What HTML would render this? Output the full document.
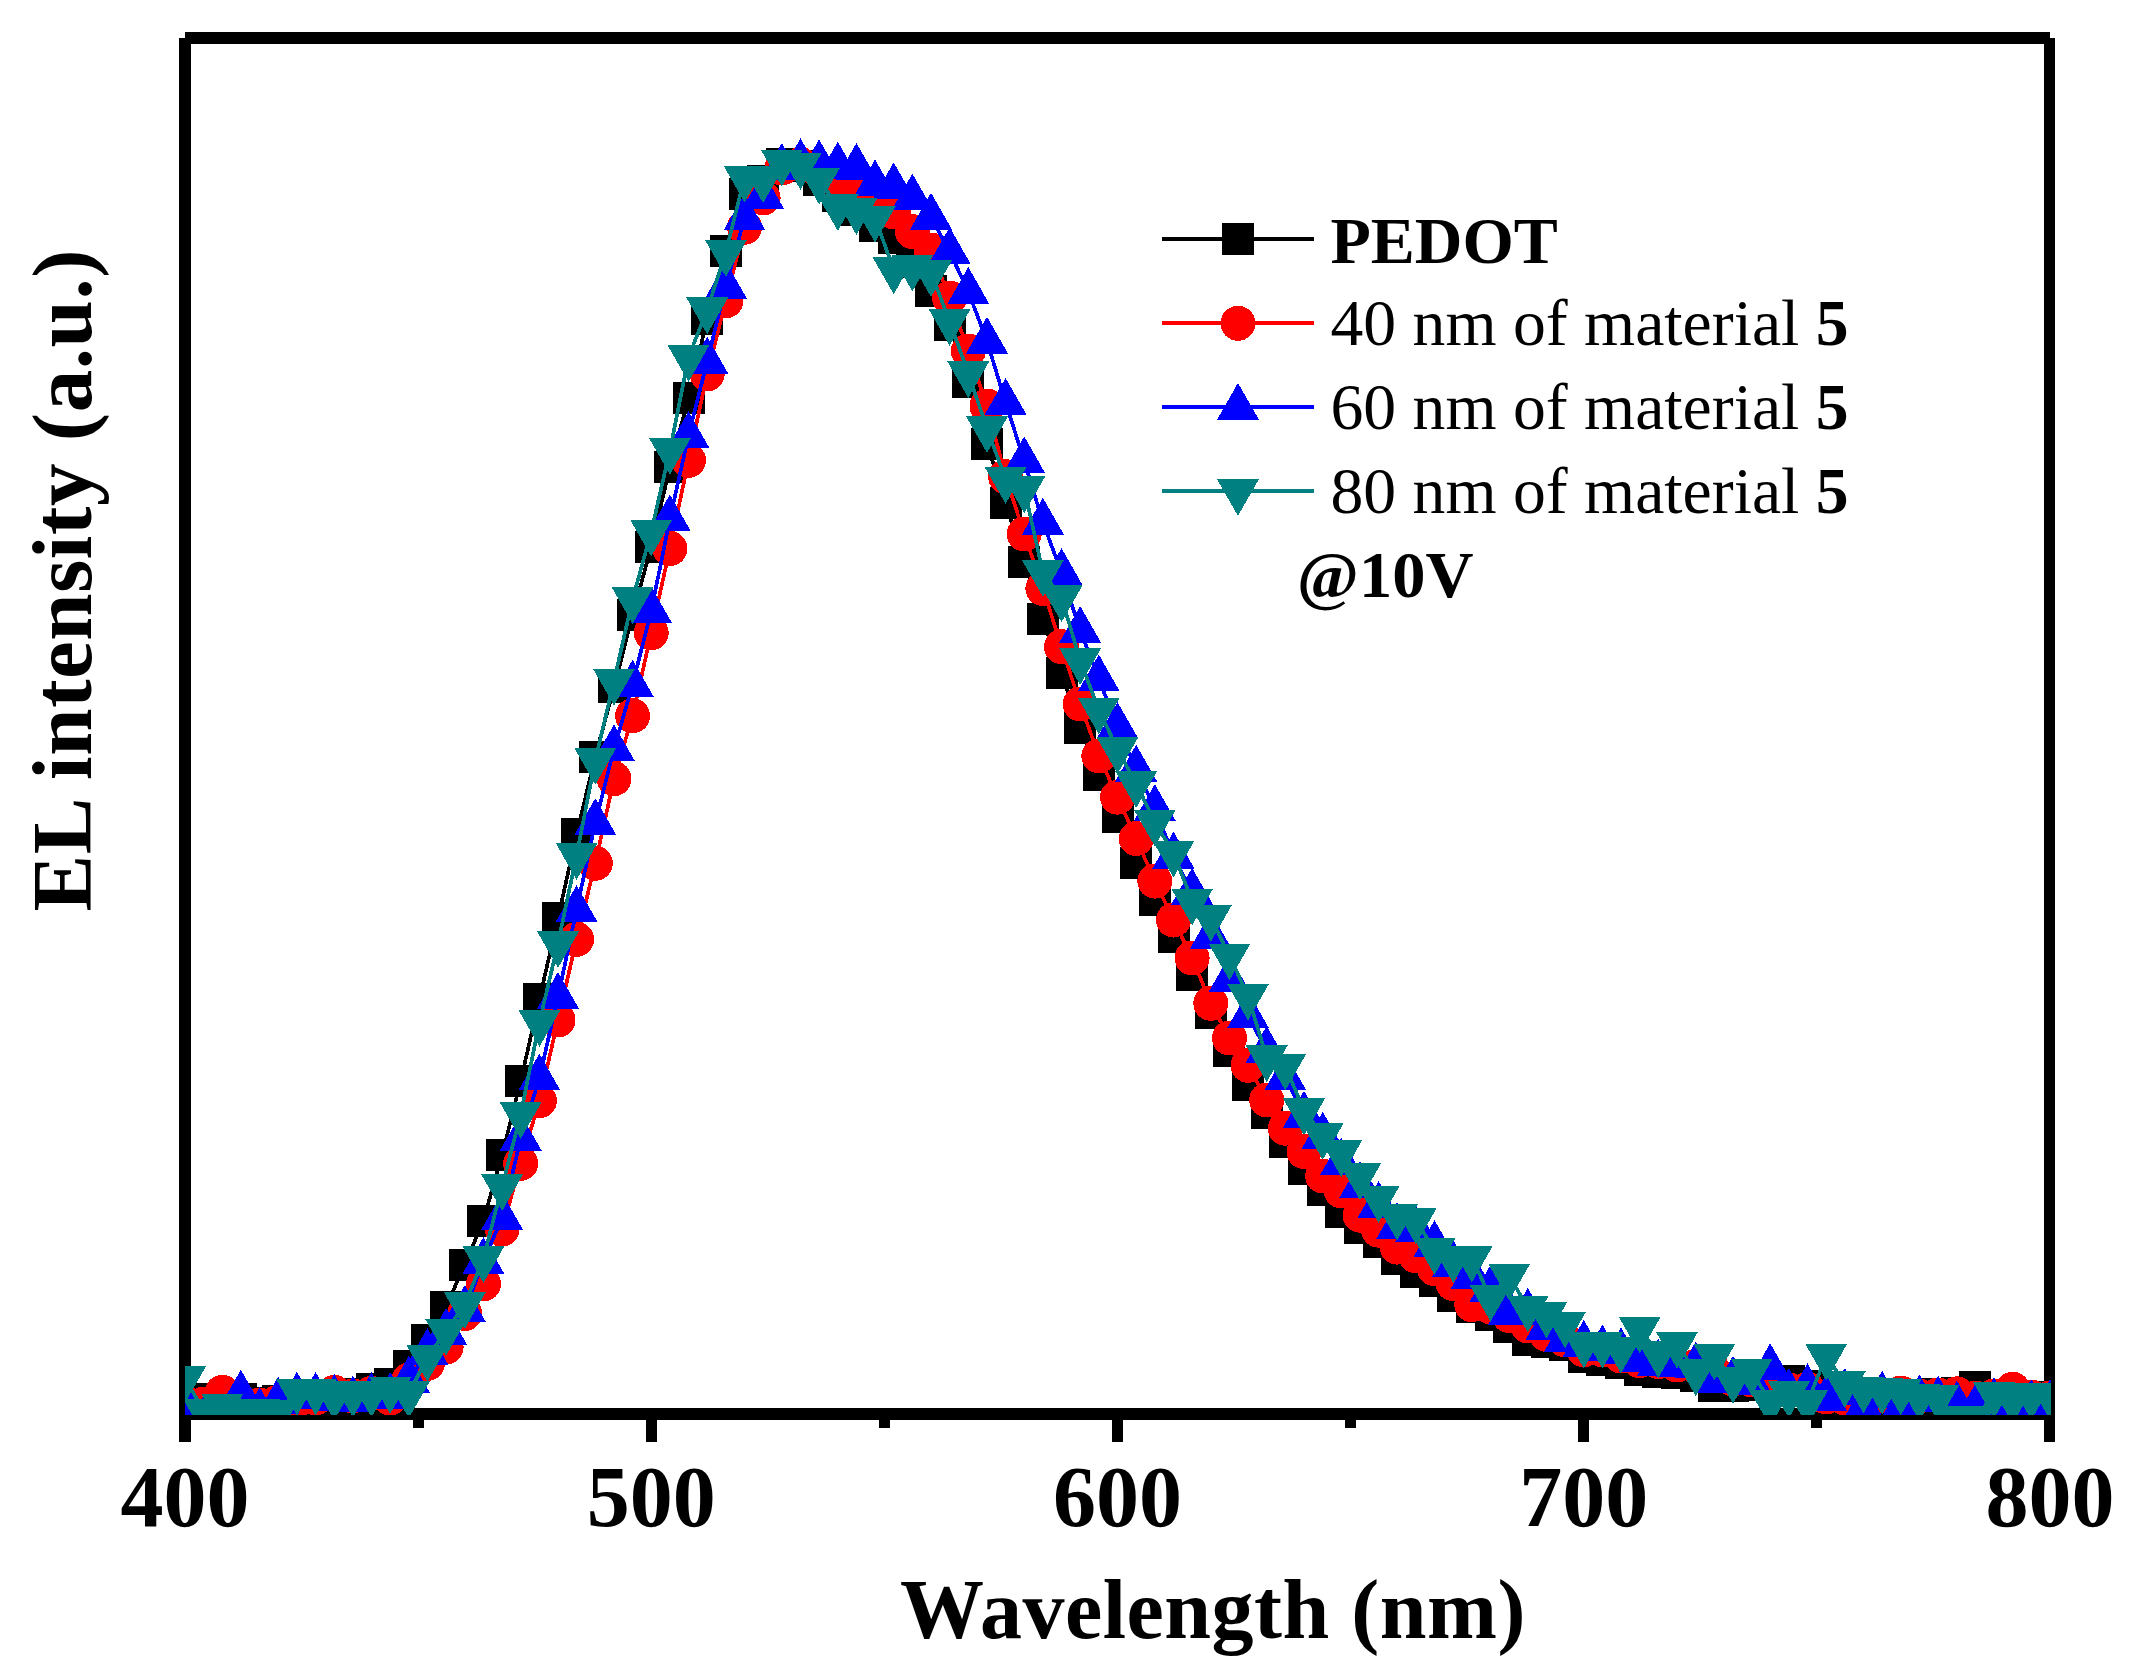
<!DOCTYPE html>
<html lang="en">
<head>
<meta charset="utf-8">
<title>EL intensity vs Wavelength</title>
<style>
html,body{margin:0;padding:0;background:#fff;}
body{width:2132px;height:1677px;overflow:hidden;}
svg{display:block;}
text{font-family:"Liberation Serif", "DejaVu Serif", serif;fill:#000;}
.b{font-weight:bold;}
</style>
</head>
<body>
<svg width="2132" height="1677" viewBox="0 0 2132 1677" shape-rendering="crispEdges">
<rect x="0" y="0" width="2132" height="1677" fill="#fff"/>
<defs><clipPath id="plot"><rect x="185" y="38" width="1866" height="1377"/></clipPath></defs>
<g fill="#000" stroke="none">
<rect x="185" y="32" width="1865" height="12"/>
<rect x="185" y="1408" width="1865" height="12"/>
<rect x="179" y="38" width="12" height="1376"/>
<rect x="2044" y="38" width="11" height="1376"/>
<rect x="179" y="1414" width="12" height="28"/>
<rect x="413" y="1414" width="11" height="14"/>
<rect x="646" y="1414" width="11" height="28"/>
<rect x="879" y="1414" width="11" height="14"/>
<rect x="1112" y="1414" width="11" height="28"/>
<rect x="1345" y="1414" width="11" height="14"/>
<rect x="1578" y="1414" width="11" height="28"/>
<rect x="1811" y="1414" width="11" height="14"/>
<rect x="2044" y="1414" width="11" height="28"/>
</g>
<g clip-path="url(#plot)">
<polyline points="185,1402 203.7,1399.4 222.3,1400 240.9,1399.4 259.6,1402.6 278.2,1401 296.9,1400 315.6,1399 334.2,1397 352.9,1394 371.5,1388.5 390.1,1384 408.8,1365.5 427.4,1340 446.1,1306.5 464.8,1264.6 483.4,1220.5 502.1,1155 520.7,1081 539.4,999 558,918.3 576.6,834.2 595.3,756.5 614,687.4 632.6,615 651.2,546.8 669.9,467.1 688.5,398.4 707.2,319 725.9,250.5 744.5,194 763.1,181 781.8,164 800.5,166 819.1,180 837.8,196 856.4,210 875,226 893.7,238 912.4,262 931,291 949.6,325 968.3,382 987,443.5 1005.6,503.4 1024.2,562.2 1042.9,619.4 1061.5,673.4 1080.2,727.7 1098.8,774.8 1117.5,816.9 1136.2,862.9 1154.8,899.7 1173.5,936.7 1192.1,974.6 1210.8,1012.7 1229.4,1050.6 1248,1084.6 1266.7,1112.6 1285.3,1142.3 1304,1169.1 1322.7,1190 1341.3,1211.8 1360,1227.7 1378.6,1241.8 1397.2,1258.7 1415.9,1271.5 1434.5,1280.5 1453.2,1295.9 1471.8,1306.6 1490.5,1314.7 1509.2,1326.9 1527.8,1339.5 1546.5,1341.9 1565.1,1344.7 1583.8,1357.3 1602.4,1360.3 1621,1362.6 1639.7,1369.7 1658.3,1371.6 1677,1372.9 1695.7,1376.3 1714.3,1385.5 1733,1386 1751.6,1385 1770.2,1384 1788.9,1380.7 1807.5,1386 1826.2,1390 1844.8,1392 1863.5,1393 1882.2,1394 1900.8,1395 1919.5,1395 1938.1,1394 1956.8,1393 1975.4,1387.3 1994,1395 2012.7,1396 2031.3,1397 2050,1398" fill="none" stroke="#000000" stroke-width="3.7" stroke-linejoin="round"/>
<g fill="#000000" stroke="none">
<rect x="169" y="1386" width="32" height="32"/>
<rect x="187.7" y="1383.4" width="32" height="32"/>
<rect x="206.3" y="1384" width="32" height="32"/>
<rect x="224.9" y="1383.4" width="32" height="32"/>
<rect x="243.6" y="1386.6" width="32" height="32"/>
<rect x="262.2" y="1385" width="32" height="32"/>
<rect x="280.9" y="1384" width="32" height="32"/>
<rect x="299.6" y="1383" width="32" height="32"/>
<rect x="318.2" y="1381" width="32" height="32"/>
<rect x="336.9" y="1378" width="32" height="32"/>
<rect x="355.5" y="1372.5" width="32" height="32"/>
<rect x="374.1" y="1368" width="32" height="32"/>
<rect x="392.8" y="1349.5" width="32" height="32"/>
<rect x="411.4" y="1324" width="32" height="32"/>
<rect x="430.1" y="1290.5" width="32" height="32"/>
<rect x="448.8" y="1248.6" width="32" height="32"/>
<rect x="467.4" y="1204.5" width="32" height="32"/>
<rect x="486.1" y="1139" width="32" height="32"/>
<rect x="504.7" y="1065" width="32" height="32"/>
<rect x="523.4" y="983" width="32" height="32"/>
<rect x="542" y="902.3" width="32" height="32"/>
<rect x="560.6" y="818.2" width="32" height="32"/>
<rect x="579.3" y="740.5" width="32" height="32"/>
<rect x="598" y="671.4" width="32" height="32"/>
<rect x="616.6" y="599" width="32" height="32"/>
<rect x="635.2" y="530.8" width="32" height="32"/>
<rect x="653.9" y="451.1" width="32" height="32"/>
<rect x="672.5" y="382.4" width="32" height="32"/>
<rect x="691.2" y="303" width="32" height="32"/>
<rect x="709.9" y="234.5" width="32" height="32"/>
<rect x="728.5" y="178" width="32" height="32"/>
<rect x="747.1" y="165" width="32" height="32"/>
<rect x="765.8" y="148" width="32" height="32"/>
<rect x="784.5" y="150" width="32" height="32"/>
<rect x="803.1" y="164" width="32" height="32"/>
<rect x="821.8" y="180" width="32" height="32"/>
<rect x="840.4" y="194" width="32" height="32"/>
<rect x="859" y="210" width="32" height="32"/>
<rect x="877.7" y="222" width="32" height="32"/>
<rect x="896.4" y="246" width="32" height="32"/>
<rect x="915" y="275" width="32" height="32"/>
<rect x="933.6" y="309" width="32" height="32"/>
<rect x="952.3" y="366" width="32" height="32"/>
<rect x="971" y="427.5" width="32" height="32"/>
<rect x="989.6" y="487.4" width="32" height="32"/>
<rect x="1008.2" y="546.2" width="32" height="32"/>
<rect x="1026.9" y="603.4" width="32" height="32"/>
<rect x="1045.5" y="657.4" width="32" height="32"/>
<rect x="1064.2" y="711.7" width="32" height="32"/>
<rect x="1082.8" y="758.8" width="32" height="32"/>
<rect x="1101.5" y="800.9" width="32" height="32"/>
<rect x="1120.2" y="846.9" width="32" height="32"/>
<rect x="1138.8" y="883.7" width="32" height="32"/>
<rect x="1157.5" y="920.7" width="32" height="32"/>
<rect x="1176.1" y="958.6" width="32" height="32"/>
<rect x="1194.8" y="996.7" width="32" height="32"/>
<rect x="1213.4" y="1034.6" width="32" height="32"/>
<rect x="1232" y="1068.6" width="32" height="32"/>
<rect x="1250.7" y="1096.6" width="32" height="32"/>
<rect x="1269.3" y="1126.3" width="32" height="32"/>
<rect x="1288" y="1153.1" width="32" height="32"/>
<rect x="1306.7" y="1174" width="32" height="32"/>
<rect x="1325.3" y="1195.8" width="32" height="32"/>
<rect x="1344" y="1211.7" width="32" height="32"/>
<rect x="1362.6" y="1225.8" width="32" height="32"/>
<rect x="1381.2" y="1242.7" width="32" height="32"/>
<rect x="1399.9" y="1255.5" width="32" height="32"/>
<rect x="1418.5" y="1264.5" width="32" height="32"/>
<rect x="1437.2" y="1279.9" width="32" height="32"/>
<rect x="1455.8" y="1290.6" width="32" height="32"/>
<rect x="1474.5" y="1298.7" width="32" height="32"/>
<rect x="1493.2" y="1310.9" width="32" height="32"/>
<rect x="1511.8" y="1323.5" width="32" height="32"/>
<rect x="1530.5" y="1325.9" width="32" height="32"/>
<rect x="1549.1" y="1328.7" width="32" height="32"/>
<rect x="1567.8" y="1341.3" width="32" height="32"/>
<rect x="1586.4" y="1344.3" width="32" height="32"/>
<rect x="1605" y="1346.6" width="32" height="32"/>
<rect x="1623.7" y="1353.7" width="32" height="32"/>
<rect x="1642.3" y="1355.6" width="32" height="32"/>
<rect x="1661" y="1356.9" width="32" height="32"/>
<rect x="1679.7" y="1360.3" width="32" height="32"/>
<rect x="1698.3" y="1369.5" width="32" height="32"/>
<rect x="1717" y="1370" width="32" height="32"/>
<rect x="1735.6" y="1369" width="32" height="32"/>
<rect x="1754.2" y="1368" width="32" height="32"/>
<rect x="1772.9" y="1364.7" width="32" height="32"/>
<rect x="1791.5" y="1370" width="32" height="32"/>
<rect x="1810.2" y="1374" width="32" height="32"/>
<rect x="1828.8" y="1376" width="32" height="32"/>
<rect x="1847.5" y="1377" width="32" height="32"/>
<rect x="1866.2" y="1378" width="32" height="32"/>
<rect x="1884.8" y="1379" width="32" height="32"/>
<rect x="1903.5" y="1379" width="32" height="32"/>
<rect x="1922.1" y="1378" width="32" height="32"/>
<rect x="1940.8" y="1377" width="32" height="32"/>
<rect x="1959.4" y="1371.3" width="32" height="32"/>
<rect x="1978" y="1379" width="32" height="32"/>
<rect x="1996.7" y="1380" width="32" height="32"/>
<rect x="2015.3" y="1381" width="32" height="32"/>
<rect x="2034" y="1382" width="32" height="32"/>
</g>
<polyline points="185,1403 203.7,1404 222.3,1392.3 240.9,1402 259.6,1405 278.2,1402 296.9,1400 315.6,1398 334.2,1392.3 352.9,1396 371.5,1393.2 390.1,1398 408.8,1380 427.4,1363.5 446.1,1347 464.8,1313.5 483.4,1284 502.1,1229 520.7,1163.3 539.4,1100.8 558,1020 576.6,939.3 595.3,863.3 614,778.7 632.6,715.8 651.2,632.8 669.9,548.6 688.5,460.4 707.2,374 725.9,300.8 744.5,227.3 763.1,198 781.8,168 800.5,164.5 819.1,171 837.8,178 856.4,184 875,195 893.7,212 912.4,231.7 931,250 949.6,298 968.3,351 987,406 1005.6,476.7 1024.2,534 1042.9,588.5 1061.5,646.7 1080.2,704 1098.8,755.9 1117.5,797.2 1136.2,838.5 1154.8,881.1 1173.5,920 1192.1,958 1210.8,1003.3 1229.4,1038 1248,1065.3 1266.7,1100 1285.3,1128.2 1304,1151.6 1322.7,1176 1341.3,1191 1360,1215.2 1378.6,1230.2 1397.2,1247.1 1415.9,1255.9 1434.5,1268.7 1453.2,1283.7 1471.8,1304.7 1490.5,1307 1509.2,1315.6 1527.8,1326 1546.5,1334.4 1565.1,1340 1583.8,1349.8 1602.4,1349.8 1621,1356 1639.7,1360.7 1658.3,1361.6 1677,1365 1695.7,1366.3 1714.3,1372 1733,1379 1751.6,1380 1770.2,1385 1788.9,1390 1807.5,1389 1826.2,1397 1844.8,1398 1863.5,1398 1882.2,1396 1900.8,1393 1919.5,1396 1938.1,1395 1956.8,1393.8 1975.4,1398 1994,1396 2012.7,1389.2 2031.3,1397 2050,1398" fill="none" stroke="#ff0000" stroke-width="3.7" stroke-linejoin="round"/>
<g fill="#ff0000" stroke="none">
<circle cx="185" cy="1403" r="17.5"/>
<circle cx="203.7" cy="1404" r="17.5"/>
<circle cx="222.3" cy="1392.3" r="17.5"/>
<circle cx="240.9" cy="1402" r="17.5"/>
<circle cx="259.6" cy="1405" r="17.5"/>
<circle cx="278.2" cy="1402" r="17.5"/>
<circle cx="296.9" cy="1400" r="17.5"/>
<circle cx="315.6" cy="1398" r="17.5"/>
<circle cx="334.2" cy="1392.3" r="17.5"/>
<circle cx="352.9" cy="1396" r="17.5"/>
<circle cx="371.5" cy="1393.2" r="17.5"/>
<circle cx="390.1" cy="1398" r="17.5"/>
<circle cx="408.8" cy="1380" r="17.5"/>
<circle cx="427.4" cy="1363.5" r="17.5"/>
<circle cx="446.1" cy="1347" r="17.5"/>
<circle cx="464.8" cy="1313.5" r="17.5"/>
<circle cx="483.4" cy="1284" r="17.5"/>
<circle cx="502.1" cy="1229" r="17.5"/>
<circle cx="520.7" cy="1163.3" r="17.5"/>
<circle cx="539.4" cy="1100.8" r="17.5"/>
<circle cx="558" cy="1020" r="17.5"/>
<circle cx="576.6" cy="939.3" r="17.5"/>
<circle cx="595.3" cy="863.3" r="17.5"/>
<circle cx="614" cy="778.7" r="17.5"/>
<circle cx="632.6" cy="715.8" r="17.5"/>
<circle cx="651.2" cy="632.8" r="17.5"/>
<circle cx="669.9" cy="548.6" r="17.5"/>
<circle cx="688.5" cy="460.4" r="17.5"/>
<circle cx="707.2" cy="374" r="17.5"/>
<circle cx="725.9" cy="300.8" r="17.5"/>
<circle cx="744.5" cy="227.3" r="17.5"/>
<circle cx="763.1" cy="198" r="17.5"/>
<circle cx="781.8" cy="168" r="17.5"/>
<circle cx="800.5" cy="164.5" r="17.5"/>
<circle cx="819.1" cy="171" r="17.5"/>
<circle cx="837.8" cy="178" r="17.5"/>
<circle cx="856.4" cy="184" r="17.5"/>
<circle cx="875" cy="195" r="17.5"/>
<circle cx="893.7" cy="212" r="17.5"/>
<circle cx="912.4" cy="231.7" r="17.5"/>
<circle cx="931" cy="250" r="17.5"/>
<circle cx="949.6" cy="298" r="17.5"/>
<circle cx="968.3" cy="351" r="17.5"/>
<circle cx="987" cy="406" r="17.5"/>
<circle cx="1005.6" cy="476.7" r="17.5"/>
<circle cx="1024.2" cy="534" r="17.5"/>
<circle cx="1042.9" cy="588.5" r="17.5"/>
<circle cx="1061.5" cy="646.7" r="17.5"/>
<circle cx="1080.2" cy="704" r="17.5"/>
<circle cx="1098.8" cy="755.9" r="17.5"/>
<circle cx="1117.5" cy="797.2" r="17.5"/>
<circle cx="1136.2" cy="838.5" r="17.5"/>
<circle cx="1154.8" cy="881.1" r="17.5"/>
<circle cx="1173.5" cy="920" r="17.5"/>
<circle cx="1192.1" cy="958" r="17.5"/>
<circle cx="1210.8" cy="1003.3" r="17.5"/>
<circle cx="1229.4" cy="1038" r="17.5"/>
<circle cx="1248" cy="1065.3" r="17.5"/>
<circle cx="1266.7" cy="1100" r="17.5"/>
<circle cx="1285.3" cy="1128.2" r="17.5"/>
<circle cx="1304" cy="1151.6" r="17.5"/>
<circle cx="1322.7" cy="1176" r="17.5"/>
<circle cx="1341.3" cy="1191" r="17.5"/>
<circle cx="1360" cy="1215.2" r="17.5"/>
<circle cx="1378.6" cy="1230.2" r="17.5"/>
<circle cx="1397.2" cy="1247.1" r="17.5"/>
<circle cx="1415.9" cy="1255.9" r="17.5"/>
<circle cx="1434.5" cy="1268.7" r="17.5"/>
<circle cx="1453.2" cy="1283.7" r="17.5"/>
<circle cx="1471.8" cy="1304.7" r="17.5"/>
<circle cx="1490.5" cy="1307" r="17.5"/>
<circle cx="1509.2" cy="1315.6" r="17.5"/>
<circle cx="1527.8" cy="1326" r="17.5"/>
<circle cx="1546.5" cy="1334.4" r="17.5"/>
<circle cx="1565.1" cy="1340" r="17.5"/>
<circle cx="1583.8" cy="1349.8" r="17.5"/>
<circle cx="1602.4" cy="1349.8" r="17.5"/>
<circle cx="1621" cy="1356" r="17.5"/>
<circle cx="1639.7" cy="1360.7" r="17.5"/>
<circle cx="1658.3" cy="1361.6" r="17.5"/>
<circle cx="1677" cy="1365" r="17.5"/>
<circle cx="1695.7" cy="1366.3" r="17.5"/>
<circle cx="1714.3" cy="1372" r="17.5"/>
<circle cx="1733" cy="1379" r="17.5"/>
<circle cx="1751.6" cy="1380" r="17.5"/>
<circle cx="1770.2" cy="1385" r="17.5"/>
<circle cx="1788.9" cy="1390" r="17.5"/>
<circle cx="1807.5" cy="1389" r="17.5"/>
<circle cx="1826.2" cy="1397" r="17.5"/>
<circle cx="1844.8" cy="1398" r="17.5"/>
<circle cx="1863.5" cy="1398" r="17.5"/>
<circle cx="1882.2" cy="1396" r="17.5"/>
<circle cx="1900.8" cy="1393" r="17.5"/>
<circle cx="1919.5" cy="1396" r="17.5"/>
<circle cx="1938.1" cy="1395" r="17.5"/>
<circle cx="1956.8" cy="1393.8" r="17.5"/>
<circle cx="1975.4" cy="1398" r="17.5"/>
<circle cx="1994" cy="1396" r="17.5"/>
<circle cx="2012.7" cy="1389.2" r="17.5"/>
<circle cx="2031.3" cy="1397" r="17.5"/>
<circle cx="2050" cy="1398" r="17.5"/>
</g>
<polyline points="185,1405 203.7,1420 222.3,1420 240.9,1394.3 259.6,1411.6 278.2,1401.3 296.9,1396.2 315.6,1396.5 334.2,1398.4 352.9,1400 371.5,1396.5 390.1,1396.5 408.8,1380.3 427.4,1352.6 446.1,1332.4 464.8,1309.7 483.4,1261.6 502.1,1217.5 520.7,1138.5 539.4,1078.1 558,996.4 576.6,909.7 595.3,822.7 614,749 632.6,684.2 651.2,611 669.9,519 688.5,435.8 707.2,361.2 725.9,286.2 744.5,218 763.1,196.6 781.8,167.5 800.5,162.8 819.1,163.8 837.8,166.2 856.4,167.5 875,184 893.7,186.9 912.4,198.1 931,217.3 949.6,251.6 968.3,291.6 987,341.2 1005.6,402.5 1024.2,460.9 1042.9,522.3 1061.5,572.7 1080.2,630.5 1098.8,679 1117.5,726.6 1136.2,769.2 1154.8,808.6 1173.5,856.2 1192.1,892.4 1210.8,936.5 1229.4,980 1248,1016 1266.7,1050.4 1285.3,1078 1304,1115.2 1322.7,1136.2 1341.3,1162.2 1360,1186 1378.6,1205.5 1397.2,1226.6 1415.9,1229.4 1434.5,1244.6 1453.2,1264.2 1471.8,1276.4 1490.5,1289.5 1509.2,1312.5 1527.8,1312.4 1546.5,1327.5 1565.1,1339.3 1583.8,1344.4 1602.4,1349 1621,1351.9 1639.7,1360 1658.3,1363.2 1677,1365 1695.7,1366 1714.3,1380.6 1733,1380.3 1751.6,1383 1770.2,1367.8 1788.9,1392.5 1807.5,1387.8 1826.2,1399 1844.8,1392.5 1863.5,1408 1882.2,1395.3 1900.8,1408 1919.5,1399 1938.1,1400 1956.8,1405 1975.4,1408 1994,1402 2012.7,1408 2031.3,1403.8 2050,1403.8" fill="none" stroke="#0000ff" stroke-width="3.7" stroke-linejoin="round"/>
<g fill="#0000ff" stroke="none">
<polygon points="185,1380.5 164,1417.3 206,1417.3"/>
<polygon points="203.7,1395.5 182.7,1432.3 224.7,1432.3"/>
<polygon points="222.3,1395.5 201.3,1432.3 243.3,1432.3"/>
<polygon points="240.9,1369.8 219.9,1406.6 261.9,1406.6"/>
<polygon points="259.6,1387.1 238.6,1423.9 280.6,1423.9"/>
<polygon points="278.2,1376.8 257.2,1413.6 299.2,1413.6"/>
<polygon points="296.9,1371.7 275.9,1408.5 317.9,1408.5"/>
<polygon points="315.6,1372 294.6,1408.8 336.6,1408.8"/>
<polygon points="334.2,1373.9 313.2,1410.7 355.2,1410.7"/>
<polygon points="352.9,1375.5 331.9,1412.3 373.9,1412.3"/>
<polygon points="371.5,1372 350.5,1408.8 392.5,1408.8"/>
<polygon points="390.1,1372 369.1,1408.8 411.1,1408.8"/>
<polygon points="408.8,1355.8 387.8,1392.6 429.8,1392.6"/>
<polygon points="427.4,1328.1 406.4,1364.9 448.4,1364.9"/>
<polygon points="446.1,1307.9 425.1,1344.7 467.1,1344.7"/>
<polygon points="464.8,1285.2 443.8,1322 485.8,1322"/>
<polygon points="483.4,1237.1 462.4,1273.9 504.4,1273.9"/>
<polygon points="502.1,1193 481.1,1229.8 523,1229.8"/>
<polygon points="520.7,1114 499.7,1150.8 541.7,1150.8"/>
<polygon points="539.4,1053.6 518.4,1090.4 560.4,1090.4"/>
<polygon points="558,971.9 537,1008.7 579,1008.7"/>
<polygon points="576.6,885.2 555.6,922 597.6,922"/>
<polygon points="595.3,798.2 574.3,835 616.3,835"/>
<polygon points="614,724.5 593,761.3 635,761.3"/>
<polygon points="632.6,659.7 611.6,696.5 653.6,696.5"/>
<polygon points="651.2,586.5 630.2,623.3 672.2,623.3"/>
<polygon points="669.9,494.5 648.9,531.3 690.9,531.3"/>
<polygon points="688.5,411.3 667.5,448.1 709.5,448.1"/>
<polygon points="707.2,336.7 686.2,373.5 728.2,373.5"/>
<polygon points="725.9,261.7 704.9,298.5 746.9,298.5"/>
<polygon points="744.5,193.5 723.5,230.3 765.5,230.3"/>
<polygon points="763.1,172.1 742.1,208.9 784.1,208.9"/>
<polygon points="781.8,143 760.8,179.8 802.8,179.8"/>
<polygon points="800.5,138.3 779.5,175.1 821.5,175.1"/>
<polygon points="819.1,139.3 798.1,176.1 840.1,176.1"/>
<polygon points="837.8,141.7 816.8,178.5 858.8,178.5"/>
<polygon points="856.4,143 835.4,179.8 877.4,179.8"/>
<polygon points="875,159.5 854,196.3 896,196.3"/>
<polygon points="893.7,162.4 872.7,199.2 914.7,199.2"/>
<polygon points="912.4,173.6 891.4,210.4 933.4,210.4"/>
<polygon points="931,192.8 910,229.6 952,229.6"/>
<polygon points="949.6,227.1 928.6,263.9 970.6,263.9"/>
<polygon points="968.3,267.1 947.3,303.9 989.3,303.9"/>
<polygon points="987,316.7 966,353.5 1008,353.5"/>
<polygon points="1005.6,378 984.6,414.8 1026.6,414.8"/>
<polygon points="1024.2,436.4 1003.2,473.2 1045.2,473.2"/>
<polygon points="1042.9,497.8 1021.9,534.6 1063.9,534.6"/>
<polygon points="1061.5,548.2 1040.5,585 1082.5,585"/>
<polygon points="1080.2,606 1059.2,642.8 1101.2,642.8"/>
<polygon points="1098.8,654.5 1077.8,691.3 1119.8,691.3"/>
<polygon points="1117.5,702.1 1096.5,738.9 1138.5,738.9"/>
<polygon points="1136.2,744.7 1115.2,781.5 1157.2,781.5"/>
<polygon points="1154.8,784.1 1133.8,820.9 1175.8,820.9"/>
<polygon points="1173.5,831.7 1152.5,868.5 1194.5,868.5"/>
<polygon points="1192.1,867.9 1171.1,904.7 1213.1,904.7"/>
<polygon points="1210.8,912 1189.8,948.8 1231.8,948.8"/>
<polygon points="1229.4,955.5 1208.4,992.3 1250.4,992.3"/>
<polygon points="1248,991.5 1227,1028.3 1269,1028.3"/>
<polygon points="1266.7,1025.9 1245.7,1062.7 1287.7,1062.7"/>
<polygon points="1285.3,1053.5 1264.3,1090.3 1306.3,1090.3"/>
<polygon points="1304,1090.7 1283,1127.5 1325,1127.5"/>
<polygon points="1322.7,1111.7 1301.7,1148.5 1343.7,1148.5"/>
<polygon points="1341.3,1137.7 1320.3,1174.5 1362.3,1174.5"/>
<polygon points="1360,1161.5 1339,1198.3 1381,1198.3"/>
<polygon points="1378.6,1181 1357.6,1217.8 1399.6,1217.8"/>
<polygon points="1397.2,1202.1 1376.2,1238.9 1418.2,1238.9"/>
<polygon points="1415.9,1204.9 1394.9,1241.7 1436.9,1241.7"/>
<polygon points="1434.5,1220.1 1413.5,1256.9 1455.5,1256.9"/>
<polygon points="1453.2,1239.7 1432.2,1276.5 1474.2,1276.5"/>
<polygon points="1471.8,1251.9 1450.8,1288.7 1492.8,1288.7"/>
<polygon points="1490.5,1265 1469.5,1301.8 1511.5,1301.8"/>
<polygon points="1509.2,1288 1488.2,1324.8 1530.2,1324.8"/>
<polygon points="1527.8,1287.9 1506.8,1324.7 1548.8,1324.7"/>
<polygon points="1546.5,1303 1525.5,1339.8 1567.5,1339.8"/>
<polygon points="1565.1,1314.8 1544.1,1351.6 1586.1,1351.6"/>
<polygon points="1583.8,1319.9 1562.8,1356.7 1604.8,1356.7"/>
<polygon points="1602.4,1324.5 1581.4,1361.3 1623.4,1361.3"/>
<polygon points="1621,1327.4 1600,1364.2 1642,1364.2"/>
<polygon points="1639.7,1335.5 1618.7,1372.3 1660.7,1372.3"/>
<polygon points="1658.3,1338.7 1637.3,1375.5 1679.3,1375.5"/>
<polygon points="1677,1340.5 1656,1377.3 1698,1377.3"/>
<polygon points="1695.7,1341.5 1674.7,1378.3 1716.7,1378.3"/>
<polygon points="1714.3,1356.1 1693.3,1392.9 1735.3,1392.9"/>
<polygon points="1733,1355.8 1712,1392.6 1754,1392.6"/>
<polygon points="1751.6,1358.5 1730.6,1395.3 1772.6,1395.3"/>
<polygon points="1770.2,1343.3 1749.2,1380.1 1791.2,1380.1"/>
<polygon points="1788.9,1368 1767.9,1404.8 1809.9,1404.8"/>
<polygon points="1807.5,1363.3 1786.5,1400.1 1828.5,1400.1"/>
<polygon points="1826.2,1374.5 1805.2,1411.3 1847.2,1411.3"/>
<polygon points="1844.8,1368 1823.8,1404.8 1865.8,1404.8"/>
<polygon points="1863.5,1383.5 1842.5,1420.3 1884.5,1420.3"/>
<polygon points="1882.2,1370.8 1861.2,1407.6 1903.2,1407.6"/>
<polygon points="1900.8,1383.5 1879.8,1420.3 1921.8,1420.3"/>
<polygon points="1919.5,1374.5 1898.5,1411.3 1940.5,1411.3"/>
<polygon points="1938.1,1375.5 1917.1,1412.3 1959.1,1412.3"/>
<polygon points="1956.8,1380.5 1935.8,1417.3 1977.8,1417.3"/>
<polygon points="1975.4,1383.5 1954.4,1420.3 1996.4,1420.3"/>
<polygon points="1994,1377.5 1973,1414.3 2015,1414.3"/>
<polygon points="2012.7,1383.5 1991.7,1420.3 2033.7,1420.3"/>
<polygon points="2031.3,1379.3 2010.3,1416.1 2052.3,1416.1"/>
<polygon points="2050,1379.3 2029,1416.1 2071,1416.1"/>
</g>
<polyline points="185,1378.6 203.7,1410.8 222.3,1406.1 240.9,1411 259.6,1410.8 278.2,1412 296.9,1391.1 315.6,1391.1 334.2,1395.8 352.9,1393 371.5,1393 390.1,1389.3 408.8,1393.6 427.4,1357.2 446.1,1331.1 464.8,1304.5 483.4,1258.5 502.1,1186.5 520.7,1114.4 539.4,1022.3 558,943.5 576.6,855.2 595.3,760.3 614,681 632.6,599.3 651.2,532 669.9,450.2 688.5,357.3 707.2,309.7 725.9,252.2 744.5,178 763.1,178.6 781.8,162 800.5,165.4 819.1,180 837.8,206.4 856.4,210.5 875,218 893.7,269.7 912.4,266.9 931,272.5 949.6,321.3 968.3,373.5 987,428.5 1005.6,479.3 1024.2,488.7 1042.9,572.3 1061.5,597.7 1080.2,660.5 1098.8,709.9 1117.5,749.3 1136.2,783.5 1154.8,822 1173.5,853 1192.1,900.8 1210.8,917.5 1229.4,955.8 1248,996 1266.7,1057.6 1285.3,1066 1304,1110.7 1322.7,1135.3 1341.3,1152.4 1360,1175.7 1378.6,1198.2 1397.2,1216 1415.9,1220 1434.5,1250.3 1453.2,1258.7 1471.8,1258.2 1490.5,1297.2 1509.2,1276 1527.8,1307.9 1546.5,1313.9 1565.1,1323.9 1583.8,1344 1602.4,1344 1621,1348.9 1639.7,1329 1658.3,1353.6 1677,1344.2 1695.7,1371.5 1714.3,1356 1733,1379.2 1751.6,1371.1 1770.2,1402 1788.9,1393.7 1807.5,1402 1826.2,1356.1 1844.8,1383.3 1863.5,1389 1882.2,1390 1900.8,1390.8 1919.5,1396.5 1938.1,1397.4 1956.8,1418 1975.4,1418 1994,1394.2 2012.7,1399.3 2031.3,1395.5 2050,1395.5" fill="none" stroke="#008080" stroke-width="3.7" stroke-linejoin="round"/>
<g fill="#008080" stroke="none">
<polygon points="185,1403.1 164,1366.3 206,1366.3"/>
<polygon points="203.7,1435.3 182.7,1398.5 224.7,1398.5"/>
<polygon points="222.3,1430.6 201.3,1393.8 243.3,1393.8"/>
<polygon points="240.9,1435.5 219.9,1398.7 261.9,1398.7"/>
<polygon points="259.6,1435.3 238.6,1398.5 280.6,1398.5"/>
<polygon points="278.2,1436.5 257.2,1399.7 299.2,1399.7"/>
<polygon points="296.9,1415.6 275.9,1378.8 317.9,1378.8"/>
<polygon points="315.6,1415.6 294.6,1378.8 336.6,1378.8"/>
<polygon points="334.2,1420.3 313.2,1383.5 355.2,1383.5"/>
<polygon points="352.9,1417.5 331.9,1380.7 373.9,1380.7"/>
<polygon points="371.5,1417.5 350.5,1380.7 392.5,1380.7"/>
<polygon points="390.1,1413.8 369.1,1377 411.1,1377"/>
<polygon points="408.8,1418.1 387.8,1381.3 429.8,1381.3"/>
<polygon points="427.4,1381.7 406.4,1344.9 448.4,1344.9"/>
<polygon points="446.1,1355.6 425.1,1318.8 467.1,1318.8"/>
<polygon points="464.8,1329 443.8,1292.2 485.8,1292.2"/>
<polygon points="483.4,1283 462.4,1246.2 504.4,1246.2"/>
<polygon points="502.1,1211 481.1,1174.2 523,1174.2"/>
<polygon points="520.7,1138.9 499.7,1102.1 541.7,1102.1"/>
<polygon points="539.4,1046.8 518.4,1010 560.4,1010"/>
<polygon points="558,968 537,931.2 579,931.2"/>
<polygon points="576.6,879.7 555.6,842.9 597.6,842.9"/>
<polygon points="595.3,784.8 574.3,748 616.3,748"/>
<polygon points="614,705.5 593,668.7 635,668.7"/>
<polygon points="632.6,623.8 611.6,587 653.6,587"/>
<polygon points="651.2,556.5 630.2,519.7 672.2,519.7"/>
<polygon points="669.9,474.7 648.9,437.9 690.9,437.9"/>
<polygon points="688.5,381.8 667.5,345 709.5,345"/>
<polygon points="707.2,334.2 686.2,297.4 728.2,297.4"/>
<polygon points="725.9,276.7 704.9,239.9 746.9,239.9"/>
<polygon points="744.5,202.5 723.5,165.7 765.5,165.7"/>
<polygon points="763.1,203.1 742.1,166.3 784.1,166.3"/>
<polygon points="781.8,186.5 760.8,149.7 802.8,149.7"/>
<polygon points="800.5,189.9 779.5,153.1 821.5,153.1"/>
<polygon points="819.1,204.5 798.1,167.7 840.1,167.7"/>
<polygon points="837.8,230.9 816.8,194.1 858.8,194.1"/>
<polygon points="856.4,235 835.4,198.2 877.4,198.2"/>
<polygon points="875,242.5 854,205.7 896,205.7"/>
<polygon points="893.7,294.2 872.7,257.4 914.7,257.4"/>
<polygon points="912.4,291.4 891.4,254.6 933.4,254.6"/>
<polygon points="931,297 910,260.2 952,260.2"/>
<polygon points="949.6,345.8 928.6,309 970.6,309"/>
<polygon points="968.3,398 947.3,361.2 989.3,361.2"/>
<polygon points="987,453 966,416.2 1008,416.2"/>
<polygon points="1005.6,503.8 984.6,467 1026.6,467"/>
<polygon points="1024.2,513.2 1003.2,476.4 1045.2,476.4"/>
<polygon points="1042.9,596.8 1021.9,560 1063.9,560"/>
<polygon points="1061.5,622.2 1040.5,585.4 1082.5,585.4"/>
<polygon points="1080.2,685 1059.2,648.2 1101.2,648.2"/>
<polygon points="1098.8,734.4 1077.8,697.6 1119.8,697.6"/>
<polygon points="1117.5,773.8 1096.5,737 1138.5,737"/>
<polygon points="1136.2,808 1115.2,771.2 1157.2,771.2"/>
<polygon points="1154.8,846.5 1133.8,809.7 1175.8,809.7"/>
<polygon points="1173.5,877.5 1152.5,840.7 1194.5,840.7"/>
<polygon points="1192.1,925.3 1171.1,888.5 1213.1,888.5"/>
<polygon points="1210.8,942 1189.8,905.2 1231.8,905.2"/>
<polygon points="1229.4,980.3 1208.4,943.5 1250.4,943.5"/>
<polygon points="1248,1020.5 1227,983.7 1269,983.7"/>
<polygon points="1266.7,1082.1 1245.7,1045.3 1287.7,1045.3"/>
<polygon points="1285.3,1090.5 1264.3,1053.7 1306.3,1053.7"/>
<polygon points="1304,1135.2 1283,1098.4 1325,1098.4"/>
<polygon points="1322.7,1159.8 1301.7,1123 1343.7,1123"/>
<polygon points="1341.3,1176.9 1320.3,1140.1 1362.3,1140.1"/>
<polygon points="1360,1200.2 1339,1163.4 1381,1163.4"/>
<polygon points="1378.6,1222.7 1357.6,1185.9 1399.6,1185.9"/>
<polygon points="1397.2,1240.5 1376.2,1203.7 1418.2,1203.7"/>
<polygon points="1415.9,1244.5 1394.9,1207.7 1436.9,1207.7"/>
<polygon points="1434.5,1274.8 1413.5,1238 1455.5,1238"/>
<polygon points="1453.2,1283.2 1432.2,1246.4 1474.2,1246.4"/>
<polygon points="1471.8,1282.7 1450.8,1245.9 1492.8,1245.9"/>
<polygon points="1490.5,1321.7 1469.5,1284.9 1511.5,1284.9"/>
<polygon points="1509.2,1300.5 1488.2,1263.7 1530.2,1263.7"/>
<polygon points="1527.8,1332.4 1506.8,1295.6 1548.8,1295.6"/>
<polygon points="1546.5,1338.4 1525.5,1301.6 1567.5,1301.6"/>
<polygon points="1565.1,1348.4 1544.1,1311.6 1586.1,1311.6"/>
<polygon points="1583.8,1368.5 1562.8,1331.7 1604.8,1331.7"/>
<polygon points="1602.4,1368.5 1581.4,1331.7 1623.4,1331.7"/>
<polygon points="1621,1373.4 1600,1336.6 1642,1336.6"/>
<polygon points="1639.7,1353.5 1618.7,1316.7 1660.7,1316.7"/>
<polygon points="1658.3,1378.1 1637.3,1341.3 1679.3,1341.3"/>
<polygon points="1677,1368.7 1656,1331.9 1698,1331.9"/>
<polygon points="1695.7,1396 1674.7,1359.2 1716.7,1359.2"/>
<polygon points="1714.3,1380.5 1693.3,1343.7 1735.3,1343.7"/>
<polygon points="1733,1403.7 1712,1366.9 1754,1366.9"/>
<polygon points="1751.6,1395.6 1730.6,1358.8 1772.6,1358.8"/>
<polygon points="1770.2,1426.5 1749.2,1389.7 1791.2,1389.7"/>
<polygon points="1788.9,1418.2 1767.9,1381.4 1809.9,1381.4"/>
<polygon points="1807.5,1426.5 1786.5,1389.7 1828.5,1389.7"/>
<polygon points="1826.2,1380.6 1805.2,1343.8 1847.2,1343.8"/>
<polygon points="1844.8,1407.8 1823.8,1371 1865.8,1371"/>
<polygon points="1863.5,1413.5 1842.5,1376.7 1884.5,1376.7"/>
<polygon points="1882.2,1414.5 1861.2,1377.7 1903.2,1377.7"/>
<polygon points="1900.8,1415.3 1879.8,1378.5 1921.8,1378.5"/>
<polygon points="1919.5,1421 1898.5,1384.2 1940.5,1384.2"/>
<polygon points="1938.1,1421.9 1917.1,1385.1 1959.1,1385.1"/>
<polygon points="1956.8,1442.5 1935.8,1405.7 1977.8,1405.7"/>
<polygon points="1975.4,1442.5 1954.4,1405.7 1996.4,1405.7"/>
<polygon points="1994,1418.7 1973,1381.9 2015,1381.9"/>
<polygon points="2012.7,1423.8 1991.7,1387 2033.7,1387"/>
<polygon points="2031.3,1420 2010.3,1383.2 2052.3,1383.2"/>
<polygon points="2050,1420 2029,1383.2 2071,1383.2"/>
</g>
</g>
<line x1="1162" y1="239.3" x2="1314" y2="239.3" stroke="#000000" stroke-width="4"/>
<g fill="#000000"><rect x="1222" y="223.3" width="32" height="32"/></g>
<text x="1330.5" y="262.6" font-size="66"><tspan class="b">PEDOT</tspan></text>
<line x1="1162" y1="323.3" x2="1314" y2="323.3" stroke="#ff0000" stroke-width="4"/>
<g fill="#ff0000"><circle cx="1238" cy="323.3" r="17.5"/></g>
<text x="1330.5" y="345.2" font-size="65.7">40 nm of material <tspan class="b">5</tspan></text>
<line x1="1162" y1="407.4" x2="1314" y2="407.4" stroke="#0000ff" stroke-width="4"/>
<g fill="#0000ff"><polygon points="1238,382.9 1217,419.7 1259,419.7"/></g>
<text x="1330.5" y="429.2" font-size="65.7">60 nm of material <tspan class="b">5</tspan></text>
<line x1="1162" y1="491.4" x2="1314" y2="491.4" stroke="#008080" stroke-width="4"/>
<g fill="#008080"><polygon points="1238,515.9 1217,479.1 1259,479.1"/></g>
<text x="1330.5" y="513.4" font-size="65.7">80 nm of material <tspan class="b">5</tspan></text>
<text x="1297" y="597.3" font-size="66" class="b" textLength="176.5" lengthAdjust="spacingAndGlyphs">@10V</text>
<text x="185" y="1525.8" font-size="86" class="b" text-anchor="middle">400</text>
<text x="651.2" y="1525.8" font-size="86" class="b" text-anchor="middle">500</text>
<text x="1117.5" y="1525.8" font-size="86" class="b" text-anchor="middle">600</text>
<text x="1583.8" y="1525.8" font-size="86" class="b" text-anchor="middle">700</text>
<text x="2050" y="1525.8" font-size="86" class="b" text-anchor="middle">800</text>
<text x="900" y="1637.9" font-size="84" class="b" textLength="625.5" lengthAdjust="spacing">Wavelength (nm)</text>
<text transform="translate(90.9,911.6) rotate(-90)" font-size="85" class="b" textLength="662.2" lengthAdjust="spacing">EL intensity (a.u.)</text>
</svg>
</body>
</html>
